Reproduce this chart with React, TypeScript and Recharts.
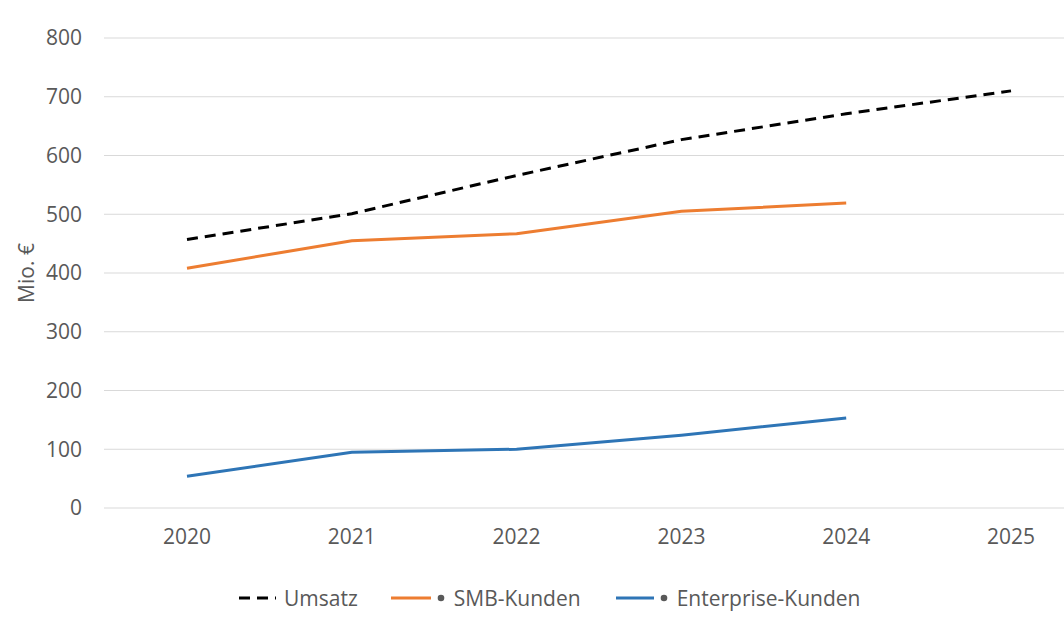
import React from 'react';
import { LineChart, Line, XAxis, YAxis, CartesianGrid, Legend } from 'recharts';

const years = ['2020', '2021', '2022', '2023', '2024', '2025'];
const umsatz = [457, 501, 566, 627, 671, 710];
const smb = [408, 455, 467, 505, 519, null];
const enterprise = [54, 95, 100, 124, 153, null];
const yTicks = [0, 100, 200, 300, 400, 500, 600, 700, 800];

const data = years.map((y, i) => ({
  year: y,
  umsatz: umsatz[i],
  smb: smb[i],
  enterprise: enterprise[i],
}));

const FONT = '"Open Sans", sans-serif';
const TEXT = '#595959';

const LegendContent = () => (
  <div
    style={{
      display: 'flex',
      alignItems: 'center',
      fontFamily: FONT,
      fontSize: 21,
      color: TEXT,
      paddingLeft: 239,
      height: 30,
    }}
  >
    <svg width={37} height={8} style={{ marginRight: 8 }}>
      <line x1={0} y1={4} x2={37} y2={4} stroke="#000" strokeWidth={3} strokeDasharray="11 7" />
    </svg>
    <span style={{ marginRight: 33 }}>Umsatz</span>
    <svg width={54} height={8} style={{ marginRight: 9 }}>
      <line x1={0} y1={4} x2={40} y2={4} stroke="#ED7D31" strokeWidth={3} />
      <circle cx={50} cy={4} r={3.3} fill="#595959" />
    </svg>
    <span style={{ marginRight: 35 }}>SMB-Kunden</span>
    <svg width={52} height={8} style={{ marginRight: 9 }}>
      <line x1={0} y1={4} x2={38} y2={4} stroke="#2E75B6" strokeWidth={3} />
      <circle cx={48} cy={4} r={3.3} fill="#595959" />
    </svg>
    <span>Enterprise-Kunden</span>
  </div>
);

export default function App() {
  return (
    <div
      style={{
        position: 'fixed',
        left: 0,
        top: 0,
        width: 1064,
        height: 618,
        overflow: 'hidden',
        background: '#fff',
      }}
    >
      <LineChart
        width={1102}
        height={618}
        data={data}
        margin={{ top: 38, right: 8, bottom: 0, left: 0 }}
      >
        <CartesianGrid horizontal vertical={false} stroke="#d9d9d9" strokeWidth={1} />
        <XAxis
          dataKey="year"
          axisLine={false}
          tickLine={false}
          tickSize={0}
          tickMargin={21}
          height={80}
          padding={{ left: 83, right: 83 }}
          tick={{ fill: TEXT, fontSize: 21, fontFamily: FONT }}
        />
        <YAxis
          domain={[0, 800]}
          ticks={yTicks}
          axisLine={false}
          tickLine={false}
          tickSize={0}
          tickMargin={22}
          width={104}
          tick={{ fill: TEXT, fontSize: 21, fontFamily: FONT }}
          label={{
            value: 'Mio. €',
            angle: -90,
            position: 'center',
            dx: -25,
            style: { fill: TEXT, fontSize: 21, fontFamily: FONT },
          }}
        />
        <Legend
          content={<LegendContent />}
          wrapperStyle={{ position: 'absolute', left: 0, top: 583, width: 1064 }}
        />
        <Line
          dataKey="umsatz"
          stroke="#000"
          strokeWidth={3}
          strokeDasharray="11 7"
          dot={false}
          isAnimationActive={false}
        />
        <Line
          dataKey="smb"
          stroke="#ED7D31"
          strokeWidth={3}
          dot={false}
          isAnimationActive={false}
        />
        <Line
          dataKey="enterprise"
          stroke="#2E75B6"
          strokeWidth={3}
          dot={false}
          isAnimationActive={false}
        />
      </LineChart>
    </div>
  );
}
